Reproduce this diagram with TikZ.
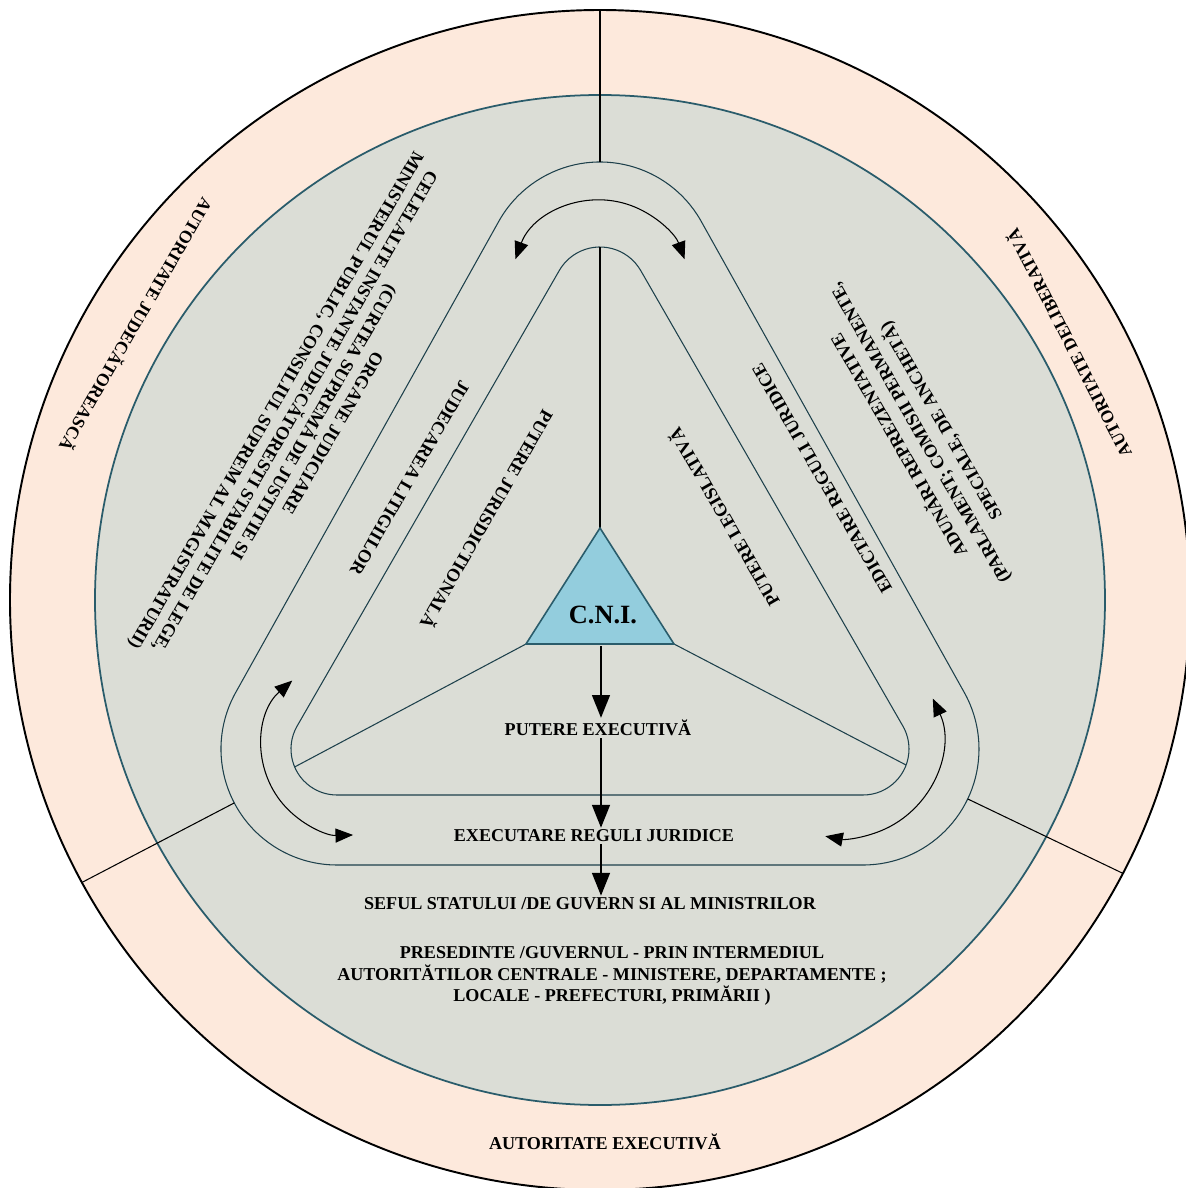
\documentclass[tikz,border=0pt]{standalone}
\usepackage{fontspec}
\setmainfont{Liberation Serif}
\usepackage{tikz}
\usetikzlibrary{arrows.meta}
\definecolor{ringpeach}{HTML}{FDE9DC}
\definecolor{innergrey}{HTML}{DBDDD6}
\definecolor{tealline}{HTML}{2A5C6B}
\definecolor{cniblue}{HTML}{93CDDD}

\begin{document}
\begin{tikzpicture}[x=0.02cm, y=0.02cm,
    lbl/.style={font=\bfseries\fontsize{10.3}{12.4}\selectfont, inner sep=1pt, align=center},
    ringlbl/.style={font=\bfseries\fontsize{10}{12}\selectfont, inner sep=1pt},
    flow/.style={line width=1.5pt, -{Triangle[length=13pt, width=10pt]}},
    twoway/.style={line width=0.6pt, {Triangle[length=10pt, width=8pt]}-{Triangle[length=10pt, width=8pt]}},
    track/.style={draw=tealline!70!black, line width=0.6pt}]
  \useasboundingbox (-600,-588) rectangle (586,600);
  \fill[white] (-600,-588) rectangle (586,600);

  % the two rings
  \draw[fill=ringpeach, line width=1.1pt] (0,0) circle (590);
  \draw[fill=innergrey, draw=tealline, line width=1pt] (0,0) circle (505);

  % corner centres of the tracks
  \coordinate (lcorner) at (-263,-149);
  \coordinate (rcorner) at (263,-149);
  \coordinate (otop) at (0,322);
  \coordinate (itop) at (0,306);

  % rounded triangular tracks
  \draw[track] ([shift={(270:116)}]lcorner) -- ([shift={(270:116)}]rcorner)
    arc[start angle=-90, end angle=30, radius=116] -- ([shift={(30:116)}]otop)
    arc[start angle=30, end angle=150, radius=116] -- ([shift={(150:116)}]lcorner)
    arc[start angle=150, end angle=270, radius=116] -- cycle;
  \draw[track] ([shift={(270:46)}]lcorner) -- ([shift={(270:46)}]rcorner)
    arc[start angle=-90, end angle=30, radius=46] -- ([shift={(30:47)}]itop)
    arc[start angle=30, end angle=150, radius=47] -- ([shift={(150:46)}]lcorner)
    arc[start angle=150, end angle=270, radius=46] -- cycle;

  % dividers between the three authorities
  \draw[line width=0.6pt] (0,590) -- ([shift={(90:116)}]otop);
  \draw[line width=0.6pt] (208.6:590) -- ([shift={(207.7:116)}]lcorner);
  \draw[line width=0.6pt] (-27.6:590) -- ([shift={(-25.5:116)}]rcorner);

  % C.N.I. triangle
  \coordinate (cnitop) at (0,72);
  \coordinate (cnileft) at (-74,-44);
  \coordinate (cniright) at (74,-44);
  \coordinate (cnibase) at (1,-46);
  \draw[line width=0.6pt] ([shift={(90:47)}]itop) -- (cnitop);
  \draw[track] (cnileft) -- ([shift={(203:46)}]lcorner);
  \draw[track] (cniright) -- ([shift={(-20.4:46)}]rcorner);
  \draw[fill=cniblue, draw=tealline, line width=0.9pt] (cnitop) -- (cniright) -- (cnileft) -- cycle;
  \node[lbl, font=\bfseries\fontsize{15}{18}\selectfont] (cni) at (3,-15) {C.N.I.};

  % turning arrows in the corners
  \coordinate (topturn) at (0,310);
  \coordinate (leftturn) at (-250,-147);
  \coordinate (rightturn) at (244,-140);
  \draw[twoway] ([shift={(160:90)}]topturn) arc[start angle=160, end angle=20, radius=90];
  \draw[twoway] ([shift={(131:88)}]leftturn) arc[start angle=131, end angle=272, radius=88];
  \draw[twoway] ([shift={(25:98)}]rightturn) arc[start angle=25, end angle=-101, radius=98];

  % executive branch, downwards
  \node[lbl] (putexec) at (-2,-128) {PUTERE EXECUTIVĂ};
  \node[lbl] (execreg) at (-6,-236) {EXECUTARE REGULI JURIDICE};
  \node[lbl] (sefstat) at (-10,-304) {SEFUL STATULUI /DE GUVERN SI AL MINISTRILOR};
  \node[lbl] (presed) at (12,-376) {PRESEDINTE /GUVERNUL - PRIN INTERMEDIUL\\
    AUTORITĂTILOR CENTRALE - MINISTERE, DEPARTAMENTE ;\\
    LOCALE - PREFECTURI, PRIMĂRII )};
  \draw[flow] (cnibase) -- (cnibase |- putexec.north);
  \draw[flow] (cnibase |- putexec.south) -- (cnibase |- execreg.north);
  \draw[flow] (cnibase |- execreg.south) -- (cnibase |- sefstat.north);

  % judicial side
  \node[lbl, rotate=-120] (putjur) at (-112,80) {PUTERE JURISDICTIONALĂ};
  \node[lbl, rotate=-120] (judlit) at (-190,122) {JUDECAREA LITIGIILOR};
  \node[lbl, rotate=-120] (orgjud) at (-297,184) {ORGANE JUDICIARE\\
    (CURTEA SUPREMĂ DE JUSTITIE SI\\
    CELELALTE INSTANTE JUDECĂTORESTI STABILITE DE LEGE,\\
    MINISTERUL PUBLIC, CONSILIUL SUPREM AL MAGISTRATURII)};

  % legislative side
  \node[lbl, rotate=120] (putleg) at (123,82) {PUTERE LEGISLATIVĂ};
  \node[lbl, rotate=120] (edreg) at (222,122) {EDICTARE REGULI JURIDICE};
  \node[lbl, rotate=120, font=\bfseries\fontsize{10.3}{13.8}\selectfont] (adunari) at (320,167) {ADUNĂRI REPREZENTATIVE\\
    (PARLAMENT; COMISII PERMANENTE,\\
    SPECIALE, DE ANCHETĂ)};

  % outer ring labels
  \node[ringlbl, rotate=-120] (autjud) at (-463,275) {AUTORITATE JUDECĂTOREASCĂ};
  \node[ringlbl, rotate=117] (autdel) at (468,256) {AUTORITATE DELIBERATIVĂ};
  \node[lbl] (autexec) at (5,-542) {AUTORITATE EXECUTIVĂ};
\end{tikzpicture}
\end{document}
